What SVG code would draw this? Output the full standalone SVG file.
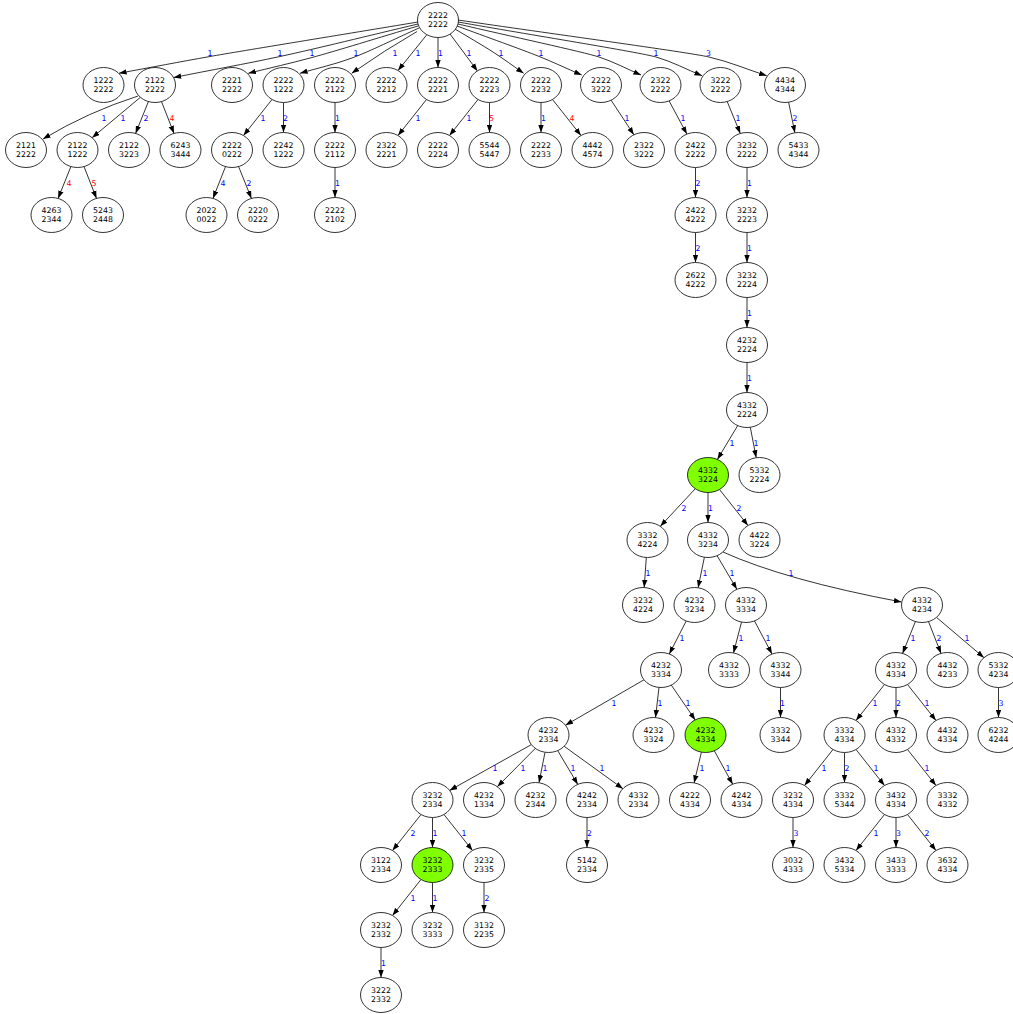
<svg xmlns="http://www.w3.org/2000/svg" width="1013" height="1014" viewBox="0 0 1013 1014">
<style>
.n ellipse{fill:#fff;stroke:#000;stroke-width:0.8}
.n.g ellipse{fill:#7fff00}
.n text{font-family:"DejaVu Sans",sans-serif;font-size:7.8px;fill:#000;text-anchor:middle}
#edges path{fill:none;stroke:#000;stroke-width:0.8;marker-end:url(#arr)}
#labels text{font-family:"DejaVu Sans",sans-serif;font-size:7.8px;fill:#0000ff;text-anchor:middle}
#labels text.r{fill:#ff0000}
</style>
<defs>
<marker id="arr" viewBox="0 0 8 6" refX="7.6" refY="3" markerWidth="8" markerHeight="6" markerUnits="userSpaceOnUse" orient="auto"><path d="M0,0.3 L7.6,3 L0,5.7 z" fill="#000"/></marker>
</defs>
<rect width="1013" height="1014" fill="#fff"/>
<g id="edges">
<path d="M418,22 C345.2,34.1 241.2,51 210,56.5 C178.8,62 152.2,67.2 119,73.2"/>
<path d="M418,24 C369.7,35.4 316.6,48.6 280,56.5 C243.4,64.4 211.8,69.8 173.6,77.6"/>
<path d="M418,26 C380.9,37 334.2,51.5 312,57.5 C289.9,63.5 270.6,67.8 248.3,73.3"/>
<path d="M419,28 C395.6,38.5 369.8,51.4 352,58 C334.2,64.6 318.2,67.9 300,73.3"/>
<path d="M417,31.5 Q385,50 351.7,73.3"/>
<path d="M427,34.5 L398,70.5"/>
<path d="M438,37.5 L438,67.5"/>
<path d="M450,34 L477.5,71"/>
<path d="M455,29 C468.3,37.1 482,44.9 493,52 C504,59.1 513,65.8 523.7,73.3"/>
<path d="M457,26 C485.4,36.5 522.5,49.8 538,56 C553.5,62.2 566.4,68.4 581.7,75"/>
<path d="M458,24 C507.4,35.6 583.8,52 599,57 C614.2,62 626.3,68.7 641,75"/>
<path d="M458,22 C527.3,34.3 639.3,52.2 656,57 C672.7,61.8 685.9,69.2 702,75.7"/>
<path d="M458,20 C545.9,33 688.4,52.2 709,57 C729.6,61.8 746.5,69.2 766.7,75.7"/>
<path d="M138,96 Q88,112 43,139"/>
<path d="M140.4,97.3 L92.1,137.7"/>
<path d="M148.4,101.6 L135.6,133.4"/>
<path d="M161.5,101.6 L174,133.4"/>
<path d="M272,99.5 L243.5,135.5"/>
<path d="M283.5,102.5 L283.5,132.5"/>
<path d="M335,102.5 L335,132.5"/>
<path d="M426.5,99.5 L398,135.5"/>
<path d="M478,99.5 L449.5,135.5"/>
<path d="M489.5,102.5 L489.5,132.5"/>
<path d="M541,102.5 L541,132.5"/>
<path d="M552.5,99.5 L581,135.5"/>
<path d="M611.1,100.2 L633.9,134.8"/>
<path d="M669.1,100.9 L686.9,134.1"/>
<path d="M727.2,101.5 L740.3,133.5"/>
<path d="M788.6,102.2 L794.9,132.8"/>
<path d="M70.9,166.6 L58.1,198.4"/>
<path d="M84,166.6 L96.5,198.4"/>
<path d="M225.5,166.6 L213,198.4"/>
<path d="M238.6,166.6 L251.4,198.4"/>
<path d="M335,167.5 L335,197.5"/>
<path d="M695.5,167.5 L695.5,197.5"/>
<path d="M747,167.5 L747,197.5"/>
<path d="M695.5,232.5 L695.5,262.5"/>
<path d="M747,232.5 L747,262.5"/>
<path d="M747,297.5 L747,327.5"/>
<path d="M747,362.5 L747,392.5"/>
<path d="M737.7,425.6 L717.4,459.4"/>
<path d="M750.3,427.3 L756.2,457.7"/>
<path d="M695.3,488.7 L660.3,526.3"/>
<path d="M708,492.5 L708,522.5"/>
<path d="M719.5,489.5 L748,525.5"/>
<path d="M646.3,557.5 L644.2,587.5"/>
<path d="M704.4,557.2 L698.1,587.8"/>
<path d="M717.1,555.7 L736.9,589.3"/>
<path d="M723,552 Q785,580 901.5,602"/>
<path d="M686.2,621 L669.3,654"/>
<path d="M741.5,622.1 L733.5,652.9"/>
<path d="M754.5,621 L772,654"/>
<path d="M915.4,621.6 L902.6,653.4"/>
<path d="M928.5,621.6 L941,653.4"/>
<path d="M936.5,617.4 L984,657.7"/>
<path d="M644,679.8 L565.5,725.2"/>
<path d="M659,687.4 L655.5,717.6"/>
<path d="M671.3,685.1 L695.2,719.9"/>
<path d="M780.5,687.5 L780.5,717.5"/>
<path d="M884.5,684.5 L856,720.5"/>
<path d="M896,687.5 L896,717.5"/>
<path d="M907.5,684.5 L936,720.5"/>
<path d="M998.5,687.5 L998.5,717.5"/>
<path d="M531.4,744.6 L449.6,790.4"/>
<path d="M535.3,748.4 L497.3,786.7"/>
<path d="M545,752.3 L539,782.7"/>
<path d="M557.7,750.6 L577.8,784.4"/>
<path d="M564.2,746.3 L622.9,788.7"/>
<path d="M701.4,752.2 L694.1,782.9"/>
<path d="M714.3,750.8 L732.7,784.2"/>
<path d="M833,749.5 L804.5,785.5"/>
<path d="M844.5,752.5 L844.5,782.5"/>
<path d="M856,749.5 L884.5,785.5"/>
<path d="M907.5,749.5 L936,785.5"/>
<path d="M421,814.5 L392.5,850.5"/>
<path d="M432.5,817.5 L432.5,847.5"/>
<path d="M444,814.5 L472.5,850.5"/>
<path d="M587,817.5 L587,847.5"/>
<path d="M793,817.5 L793,847.5"/>
<path d="M884.5,814.5 L856,850.5"/>
<path d="M896,817.5 L896,847.5"/>
<path d="M907.5,814.5 L936,850.5"/>
<path d="M421,879.5 L392.5,915.5"/>
<path d="M432.5,882.5 L432.5,912.5"/>
<path d="M484,882.5 L484,912.5"/>
<path d="M381,947.5 L381,977.5"/>
</g>
<g id="labels">
<text x="210" y="55.5">1</text><text x="280" y="55.5">1</text><text x="312" y="55.5">1</text><text x="356" y="55.5">1</text><text x="395" y="55.5">1</text><text x="418" y="55.5">1</text><text x="440.5" y="55.5">1</text><text x="469" y="55.5">1</text><text x="501" y="55.5">1</text><text x="541" y="55.5">1</text><text x="599" y="55.5">1</text><text x="656" y="55.5">1</text><text x="708.5" y="55.5">3</text>
<text x="104" y="120.5">1</text><text x="123" y="120.5">1</text><text x="146" y="120.5">2</text><text class="r" x="172" y="120.5">4</text><text x="263" y="120.5">1</text><text x="285.5" y="120.5">2</text><text x="337.5" y="120.5">1</text><text x="418" y="120.5">1</text><text x="469" y="120.5">1</text><text class="r" x="491.5" y="120.5">5</text><text x="543.5" y="120.5">1</text><text class="r" x="572" y="120.5">4</text><text x="627" y="120.5">1</text><text x="683" y="120.5">1</text><text x="738" y="120.5">1</text><text x="795" y="120.5">2</text>
<text class="r" x="69" y="185.5">4</text><text class="r" x="94" y="185.5">5</text><text x="223" y="185.5">4</text><text x="249" y="185.5">2</text><text x="337.5" y="185.5">1</text><text x="698" y="185.5">2</text><text x="749.5" y="185.5">1</text>
<text x="698" y="250.5">2</text><text x="749.5" y="250.5">1</text>
<text x="749.5" y="315.5">1</text>
<text x="749.5" y="380.5">1</text>
<text x="732" y="445.5">1</text><text x="756" y="445.5">1</text>
<text x="684" y="510.5">2</text><text x="710.5" y="510.5">1</text><text x="739" y="510.5">2</text>
<text x="648" y="575.5">1</text><text x="705" y="575.5">1</text><text x="732" y="575.5">1</text><text x="791" y="575.5">1</text>
<text x="682" y="640.5">1</text><text x="741" y="640.5">1</text><text x="768" y="640.5">1</text><text x="913" y="640.5">1</text><text x="939" y="640.5">2</text><text x="967" y="640.5">1</text>
<text x="614" y="705.5">1</text><text x="660" y="705.5">1</text><text x="688" y="705.5">1</text><text x="782.5" y="705.5">1</text><text x="875" y="705.5">1</text><text x="898.5" y="705.5">2</text><text x="927" y="705.5">1</text><text x="1001" y="705.5">3</text>
<text x="495" y="770.5">1</text><text x="523" y="770.5">1</text><text x="545" y="770.5">1</text><text x="573" y="770.5">1</text><text x="602" y="770.5">1</text><text x="702" y="770.5">1</text><text x="728" y="770.5">1</text><text x="824" y="770.5">1</text><text x="847" y="770.5">2</text><text x="876" y="770.5">1</text><text x="927" y="770.5">1</text>
<text x="413" y="835.5">2</text><text x="435" y="835.5">1</text><text x="464" y="835.5">1</text><text x="589.5" y="835.5">2</text><text x="796" y="835.5">3</text><text x="876" y="835.5">1</text><text x="898.5" y="835.5">3</text><text x="927" y="835.5">2</text>
<text x="413" y="900.5">1</text><text x="435" y="900.5">1</text><text x="487" y="900.5">2</text>
<text x="383.5" y="965.5">1</text>
</g>
<g id="nodes">
<g id="n2222_2222" class="n" transform="translate(438,20)"><ellipse rx="20.5" ry="17.5"/><text><tspan x="0" y="-1.8">2222</tspan><tspan x="0" y="7.3">2222</tspan></text></g>
<g id="n1222_2222" class="n" transform="translate(103.5,85)"><ellipse rx="20.5" ry="17.5"/><text><tspan x="0" y="-1.8">1222</tspan><tspan x="0" y="7.3">2222</tspan></text></g>
<g id="n2122_2222" class="n" transform="translate(155,85)"><ellipse rx="20.5" ry="17.5"/><text><tspan x="0" y="-1.8">2122</tspan><tspan x="0" y="7.3">2222</tspan></text></g>
<g id="n2221_2222" class="n" transform="translate(232,85)"><ellipse rx="20.5" ry="17.5"/><text><tspan x="0" y="-1.8">2221</tspan><tspan x="0" y="7.3">2222</tspan></text></g>
<g id="n2222_1222" class="n" transform="translate(283.5,85)"><ellipse rx="20.5" ry="17.5"/><text><tspan x="0" y="-1.8">2222</tspan><tspan x="0" y="7.3">1222</tspan></text></g>
<g id="n2222_2122" class="n" transform="translate(335,85)"><ellipse rx="20.5" ry="17.5"/><text><tspan x="0" y="-1.8">2222</tspan><tspan x="0" y="7.3">2122</tspan></text></g>
<g id="n2222_2212" class="n" transform="translate(386.5,85)"><ellipse rx="20.5" ry="17.5"/><text><tspan x="0" y="-1.8">2222</tspan><tspan x="0" y="7.3">2212</tspan></text></g>
<g id="n2222_2221" class="n" transform="translate(438,85)"><ellipse rx="20.5" ry="17.5"/><text><tspan x="0" y="-1.8">2222</tspan><tspan x="0" y="7.3">2221</tspan></text></g>
<g id="n2222_2223" class="n" transform="translate(489.5,85)"><ellipse rx="20.5" ry="17.5"/><text><tspan x="0" y="-1.8">2222</tspan><tspan x="0" y="7.3">2223</tspan></text></g>
<g id="n2222_2232" class="n" transform="translate(541,85)"><ellipse rx="20.5" ry="17.5"/><text><tspan x="0" y="-1.8">2222</tspan><tspan x="0" y="7.3">2232</tspan></text></g>
<g id="n2222_3222" class="n" transform="translate(601,85)"><ellipse rx="20.5" ry="17.5"/><text><tspan x="0" y="-1.8">2222</tspan><tspan x="0" y="7.3">3222</tspan></text></g>
<g id="n2322_2222" class="n" transform="translate(660.5,85)"><ellipse rx="20.5" ry="17.5"/><text><tspan x="0" y="-1.8">2322</tspan><tspan x="0" y="7.3">2222</tspan></text></g>
<g id="n3222_2222" class="n" transform="translate(720.5,85)"><ellipse rx="20.5" ry="17.5"/><text><tspan x="0" y="-1.8">3222</tspan><tspan x="0" y="7.3">2222</tspan></text></g>
<g id="n4434_4344" class="n" transform="translate(785,85)"><ellipse rx="20.5" ry="17.5"/><text><tspan x="0" y="-1.8">4434</tspan><tspan x="0" y="7.3">4344</tspan></text></g>
<g id="n2121_2222" class="n" transform="translate(26,150)"><ellipse rx="20.5" ry="17.5"/><text><tspan x="0" y="-1.8">2121</tspan><tspan x="0" y="7.3">2222</tspan></text></g>
<g id="n2122_1222" class="n" transform="translate(77.5,150)"><ellipse rx="20.5" ry="17.5"/><text><tspan x="0" y="-1.8">2122</tspan><tspan x="0" y="7.3">1222</tspan></text></g>
<g id="n2122_3223" class="n" transform="translate(129,150)"><ellipse rx="20.5" ry="17.5"/><text><tspan x="0" y="-1.8">2122</tspan><tspan x="0" y="7.3">3223</tspan></text></g>
<g id="n6243_3444" class="n" transform="translate(180.5,150)"><ellipse rx="20.5" ry="17.5"/><text><tspan x="0" y="-1.8">6243</tspan><tspan x="0" y="7.3">3444</tspan></text></g>
<g id="n2222_0222" class="n" transform="translate(232,150)"><ellipse rx="20.5" ry="17.5"/><text><tspan x="0" y="-1.8">2222</tspan><tspan x="0" y="7.3">0222</tspan></text></g>
<g id="n2242_1222" class="n" transform="translate(283.5,150)"><ellipse rx="20.5" ry="17.5"/><text><tspan x="0" y="-1.8">2242</tspan><tspan x="0" y="7.3">1222</tspan></text></g>
<g id="n2222_2112" class="n" transform="translate(335,150)"><ellipse rx="20.5" ry="17.5"/><text><tspan x="0" y="-1.8">2222</tspan><tspan x="0" y="7.3">2112</tspan></text></g>
<g id="n2322_2221" class="n" transform="translate(386.5,150)"><ellipse rx="20.5" ry="17.5"/><text><tspan x="0" y="-1.8">2322</tspan><tspan x="0" y="7.3">2221</tspan></text></g>
<g id="n2222_2224" class="n" transform="translate(438,150)"><ellipse rx="20.5" ry="17.5"/><text><tspan x="0" y="-1.8">2222</tspan><tspan x="0" y="7.3">2224</tspan></text></g>
<g id="n5544_5447" class="n" transform="translate(489.5,150)"><ellipse rx="20.5" ry="17.5"/><text><tspan x="0" y="-1.8">5544</tspan><tspan x="0" y="7.3">5447</tspan></text></g>
<g id="n2222_2233" class="n" transform="translate(541,150)"><ellipse rx="20.5" ry="17.5"/><text><tspan x="0" y="-1.8">2222</tspan><tspan x="0" y="7.3">2233</tspan></text></g>
<g id="n4442_4574" class="n" transform="translate(592.5,150)"><ellipse rx="20.5" ry="17.5"/><text><tspan x="0" y="-1.8">4442</tspan><tspan x="0" y="7.3">4574</tspan></text></g>
<g id="n2322_3222" class="n" transform="translate(644,150)"><ellipse rx="20.5" ry="17.5"/><text><tspan x="0" y="-1.8">2322</tspan><tspan x="0" y="7.3">3222</tspan></text></g>
<g id="n2422_2222" class="n" transform="translate(695.5,150)"><ellipse rx="20.5" ry="17.5"/><text><tspan x="0" y="-1.8">2422</tspan><tspan x="0" y="7.3">2222</tspan></text></g>
<g id="n3232_2222" class="n" transform="translate(747,150)"><ellipse rx="20.5" ry="17.5"/><text><tspan x="0" y="-1.8">3232</tspan><tspan x="0" y="7.3">2222</tspan></text></g>
<g id="n5433_4344" class="n" transform="translate(798.5,150)"><ellipse rx="20.5" ry="17.5"/><text><tspan x="0" y="-1.8">5433</tspan><tspan x="0" y="7.3">4344</tspan></text></g>
<g id="n4263_2344" class="n" transform="translate(51.5,215)"><ellipse rx="20.5" ry="17.5"/><text><tspan x="0" y="-1.8">4263</tspan><tspan x="0" y="7.3">2344</tspan></text></g>
<g id="n5243_2448" class="n" transform="translate(103,215)"><ellipse rx="20.5" ry="17.5"/><text><tspan x="0" y="-1.8">5243</tspan><tspan x="0" y="7.3">2448</tspan></text></g>
<g id="n2022_0022" class="n" transform="translate(206.5,215)"><ellipse rx="20.5" ry="17.5"/><text><tspan x="0" y="-1.8">2022</tspan><tspan x="0" y="7.3">0022</tspan></text></g>
<g id="n2220_0222" class="n" transform="translate(258,215)"><ellipse rx="20.5" ry="17.5"/><text><tspan x="0" y="-1.8">2220</tspan><tspan x="0" y="7.3">0222</tspan></text></g>
<g id="n2222_2102" class="n" transform="translate(335,215)"><ellipse rx="20.5" ry="17.5"/><text><tspan x="0" y="-1.8">2222</tspan><tspan x="0" y="7.3">2102</tspan></text></g>
<g id="n2422_4222" class="n" transform="translate(695.5,215)"><ellipse rx="20.5" ry="17.5"/><text><tspan x="0" y="-1.8">2422</tspan><tspan x="0" y="7.3">4222</tspan></text></g>
<g id="n3232_2223" class="n" transform="translate(747,215)"><ellipse rx="20.5" ry="17.5"/><text><tspan x="0" y="-1.8">3232</tspan><tspan x="0" y="7.3">2223</tspan></text></g>
<g id="n2622_4222" class="n" transform="translate(695.5,280)"><ellipse rx="20.5" ry="17.5"/><text><tspan x="0" y="-1.8">2622</tspan><tspan x="0" y="7.3">4222</tspan></text></g>
<g id="n3232_2224" class="n" transform="translate(747,280)"><ellipse rx="20.5" ry="17.5"/><text><tspan x="0" y="-1.8">3232</tspan><tspan x="0" y="7.3">2224</tspan></text></g>
<g id="n4232_2224" class="n" transform="translate(747,345)"><ellipse rx="20.5" ry="17.5"/><text><tspan x="0" y="-1.8">4232</tspan><tspan x="0" y="7.3">2224</tspan></text></g>
<g id="n4332_2224" class="n" transform="translate(747,410)"><ellipse rx="20.5" ry="17.5"/><text><tspan x="0" y="-1.8">4332</tspan><tspan x="0" y="7.3">2224</tspan></text></g>
<g id="n4332_3224" class="n g" transform="translate(708,475)"><ellipse rx="20.5" ry="17.5"/><text><tspan x="0" y="-1.8">4332</tspan><tspan x="0" y="7.3">3224</tspan></text></g>
<g id="n5332_2224" class="n" transform="translate(759.5,475)"><ellipse rx="20.5" ry="17.5"/><text><tspan x="0" y="-1.8">5332</tspan><tspan x="0" y="7.3">2224</tspan></text></g>
<g id="n3332_4224" class="n" transform="translate(647.5,540)"><ellipse rx="20.5" ry="17.5"/><text><tspan x="0" y="-1.8">3332</tspan><tspan x="0" y="7.3">4224</tspan></text></g>
<g id="n4332_3234" class="n" transform="translate(708,540)"><ellipse rx="20.5" ry="17.5"/><text><tspan x="0" y="-1.8">4332</tspan><tspan x="0" y="7.3">3234</tspan></text></g>
<g id="n4422_3224" class="n" transform="translate(759.5,540)"><ellipse rx="20.5" ry="17.5"/><text><tspan x="0" y="-1.8">4422</tspan><tspan x="0" y="7.3">3224</tspan></text></g>
<g id="n3232_4224" class="n" transform="translate(643,605)"><ellipse rx="20.5" ry="17.5"/><text><tspan x="0" y="-1.8">3232</tspan><tspan x="0" y="7.3">4224</tspan></text></g>
<g id="n4232_3234" class="n" transform="translate(694.5,605)"><ellipse rx="20.5" ry="17.5"/><text><tspan x="0" y="-1.8">4232</tspan><tspan x="0" y="7.3">3234</tspan></text></g>
<g id="n4332_3334" class="n" transform="translate(746,605)"><ellipse rx="20.5" ry="17.5"/><text><tspan x="0" y="-1.8">4332</tspan><tspan x="0" y="7.3">3334</tspan></text></g>
<g id="n4332_4234" class="n" transform="translate(922,605)"><ellipse rx="20.5" ry="17.5"/><text><tspan x="0" y="-1.8">4332</tspan><tspan x="0" y="7.3">4234</tspan></text></g>
<g id="n4232_3334" class="n" transform="translate(661,670)"><ellipse rx="20.5" ry="17.5"/><text><tspan x="0" y="-1.8">4232</tspan><tspan x="0" y="7.3">3334</tspan></text></g>
<g id="n4332_3333" class="n" transform="translate(729,670)"><ellipse rx="20.5" ry="17.5"/><text><tspan x="0" y="-1.8">4332</tspan><tspan x="0" y="7.3">3333</tspan></text></g>
<g id="n4332_3344" class="n" transform="translate(780.5,670)"><ellipse rx="20.5" ry="17.5"/><text><tspan x="0" y="-1.8">4332</tspan><tspan x="0" y="7.3">3344</tspan></text></g>
<g id="n4332_4334" class="n" transform="translate(896,670)"><ellipse rx="20.5" ry="17.5"/><text><tspan x="0" y="-1.8">4332</tspan><tspan x="0" y="7.3">4334</tspan></text></g>
<g id="n4432_4233" class="n" transform="translate(947.5,670)"><ellipse rx="20.5" ry="17.5"/><text><tspan x="0" y="-1.8">4432</tspan><tspan x="0" y="7.3">4233</tspan></text></g>
<g id="n5332_4234" class="n" transform="translate(998.5,670)"><ellipse rx="20.5" ry="17.5"/><text><tspan x="0" y="-1.8">5332</tspan><tspan x="0" y="7.3">4234</tspan></text></g>
<g id="n4232_2334" class="n" transform="translate(548.5,735)"><ellipse rx="20.5" ry="17.5"/><text><tspan x="0" y="-1.8">4232</tspan><tspan x="0" y="7.3">2334</tspan></text></g>
<g id="n4232_3324" class="n" transform="translate(653.5,735)"><ellipse rx="20.5" ry="17.5"/><text><tspan x="0" y="-1.8">4232</tspan><tspan x="0" y="7.3">3324</tspan></text></g>
<g id="n4232_4334" class="n g" transform="translate(705.5,735)"><ellipse rx="20.5" ry="17.5"/><text><tspan x="0" y="-1.8">4232</tspan><tspan x="0" y="7.3">4334</tspan></text></g>
<g id="n3332_3344" class="n" transform="translate(780.5,735)"><ellipse rx="20.5" ry="17.5"/><text><tspan x="0" y="-1.8">3332</tspan><tspan x="0" y="7.3">3344</tspan></text></g>
<g id="n3332_4334" class="n" transform="translate(844.5,735)"><ellipse rx="20.5" ry="17.5"/><text><tspan x="0" y="-1.8">3332</tspan><tspan x="0" y="7.3">4334</tspan></text></g>
<g id="n4332_4332" class="n" transform="translate(896,735)"><ellipse rx="20.5" ry="17.5"/><text><tspan x="0" y="-1.8">4332</tspan><tspan x="0" y="7.3">4332</tspan></text></g>
<g id="n4432_4334" class="n" transform="translate(947.5,735)"><ellipse rx="20.5" ry="17.5"/><text><tspan x="0" y="-1.8">4432</tspan><tspan x="0" y="7.3">4334</tspan></text></g>
<g id="n6232_4244" class="n" transform="translate(998.5,735)"><ellipse rx="20.5" ry="17.5"/><text><tspan x="0" y="-1.8">6232</tspan><tspan x="0" y="7.3">4244</tspan></text></g>
<g id="n3232_2334" class="n" transform="translate(432.5,800)"><ellipse rx="20.5" ry="17.5"/><text><tspan x="0" y="-1.8">3232</tspan><tspan x="0" y="7.3">2334</tspan></text></g>
<g id="n4232_1334" class="n" transform="translate(484,800)"><ellipse rx="20.5" ry="17.5"/><text><tspan x="0" y="-1.8">4232</tspan><tspan x="0" y="7.3">1334</tspan></text></g>
<g id="n4232_2344" class="n" transform="translate(535.5,800)"><ellipse rx="20.5" ry="17.5"/><text><tspan x="0" y="-1.8">4232</tspan><tspan x="0" y="7.3">2344</tspan></text></g>
<g id="n4242_2334" class="n" transform="translate(587,800)"><ellipse rx="20.5" ry="17.5"/><text><tspan x="0" y="-1.8">4242</tspan><tspan x="0" y="7.3">2334</tspan></text></g>
<g id="n4332_2334" class="n" transform="translate(638.5,800)"><ellipse rx="20.5" ry="17.5"/><text><tspan x="0" y="-1.8">4332</tspan><tspan x="0" y="7.3">2334</tspan></text></g>
<g id="n4222_4334" class="n" transform="translate(690,800)"><ellipse rx="20.5" ry="17.5"/><text><tspan x="0" y="-1.8">4222</tspan><tspan x="0" y="7.3">4334</tspan></text></g>
<g id="n4242_4334" class="n" transform="translate(741.5,800)"><ellipse rx="20.5" ry="17.5"/><text><tspan x="0" y="-1.8">4242</tspan><tspan x="0" y="7.3">4334</tspan></text></g>
<g id="n3232_4334" class="n" transform="translate(793,800)"><ellipse rx="20.5" ry="17.5"/><text><tspan x="0" y="-1.8">3232</tspan><tspan x="0" y="7.3">4334</tspan></text></g>
<g id="n3332_5344" class="n" transform="translate(844.5,800)"><ellipse rx="20.5" ry="17.5"/><text><tspan x="0" y="-1.8">3332</tspan><tspan x="0" y="7.3">5344</tspan></text></g>
<g id="n3432_4334" class="n" transform="translate(896,800)"><ellipse rx="20.5" ry="17.5"/><text><tspan x="0" y="-1.8">3432</tspan><tspan x="0" y="7.3">4334</tspan></text></g>
<g id="n3332_4332" class="n" transform="translate(947.5,800)"><ellipse rx="20.5" ry="17.5"/><text><tspan x="0" y="-1.8">3332</tspan><tspan x="0" y="7.3">4332</tspan></text></g>
<g id="n3122_2334" class="n" transform="translate(381,865)"><ellipse rx="20.5" ry="17.5"/><text><tspan x="0" y="-1.8">3122</tspan><tspan x="0" y="7.3">2334</tspan></text></g>
<g id="n3232_2333" class="n g" transform="translate(432.5,865)"><ellipse rx="20.5" ry="17.5"/><text><tspan x="0" y="-1.8">3232</tspan><tspan x="0" y="7.3">2333</tspan></text></g>
<g id="n3232_2335" class="n" transform="translate(484,865)"><ellipse rx="20.5" ry="17.5"/><text><tspan x="0" y="-1.8">3232</tspan><tspan x="0" y="7.3">2335</tspan></text></g>
<g id="n5142_2334" class="n" transform="translate(587,865)"><ellipse rx="20.5" ry="17.5"/><text><tspan x="0" y="-1.8">5142</tspan><tspan x="0" y="7.3">2334</tspan></text></g>
<g id="n3032_4333" class="n" transform="translate(793,865)"><ellipse rx="20.5" ry="17.5"/><text><tspan x="0" y="-1.8">3032</tspan><tspan x="0" y="7.3">4333</tspan></text></g>
<g id="n3432_5334" class="n" transform="translate(844.5,865)"><ellipse rx="20.5" ry="17.5"/><text><tspan x="0" y="-1.8">3432</tspan><tspan x="0" y="7.3">5334</tspan></text></g>
<g id="n3433_3333" class="n" transform="translate(896,865)"><ellipse rx="20.5" ry="17.5"/><text><tspan x="0" y="-1.8">3433</tspan><tspan x="0" y="7.3">3333</tspan></text></g>
<g id="n3632_4334" class="n" transform="translate(947.5,865)"><ellipse rx="20.5" ry="17.5"/><text><tspan x="0" y="-1.8">3632</tspan><tspan x="0" y="7.3">4334</tspan></text></g>
<g id="n3232_2332" class="n" transform="translate(381,930)"><ellipse rx="20.5" ry="17.5"/><text><tspan x="0" y="-1.8">3232</tspan><tspan x="0" y="7.3">2332</tspan></text></g>
<g id="n3232_3333" class="n" transform="translate(432.5,930)"><ellipse rx="20.5" ry="17.5"/><text><tspan x="0" y="-1.8">3232</tspan><tspan x="0" y="7.3">3333</tspan></text></g>
<g id="n3132_2235" class="n" transform="translate(484,930)"><ellipse rx="20.5" ry="17.5"/><text><tspan x="0" y="-1.8">3132</tspan><tspan x="0" y="7.3">2235</tspan></text></g>
<g id="n3222_2332" class="n" transform="translate(381,995)"><ellipse rx="20.5" ry="17.5"/><text><tspan x="0" y="-1.8">3222</tspan><tspan x="0" y="7.3">2332</tspan></text></g>
</g>
</svg>
